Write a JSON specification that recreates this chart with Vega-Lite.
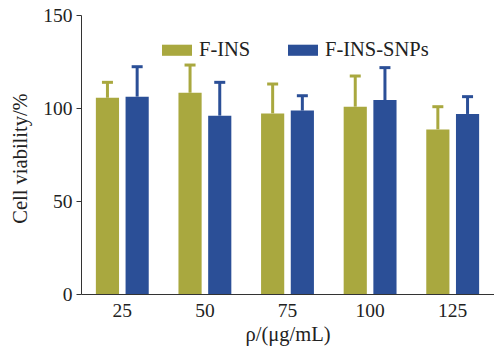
{
  "$schema": "https://vega.github.io/schema/vega-lite/v6.json",
  "width": 413,
  "height": 279,
  "autosize": {"type": "none"},
  "padding": {"left": 81, "top": 15, "right": 0, "bottom": 58},
  "background": "white",
  "config": {
    "view": {"stroke": null},
    "font": "Liberation Serif",
    "axis": {"labelFont": "Liberation Serif", "titleFont": "Liberation Serif", "labelFontSize": 19.5, "titleFontSize": 20.5, "titleFontWeight": "normal", "labelColor": "#222", "titleColor": "#222", "domainColor": "#333", "tickColor": "#333", "grid": false},
    "legend": {"labelFont": "Liberation Serif", "labelFontSize": 20.5, "labelColor": "#222"}
  },
  "data": {
    "values": [
      {"conc": "25", "group": "F-INS", "value": 105.5, "upper": 113.8},
      {"conc": "25", "group": "F-INS-SNPs", "value": 106.1, "upper": 122.2},
      {"conc": "50", "group": "F-INS", "value": 108.2, "upper": 123.1},
      {"conc": "50", "group": "F-INS-SNPs", "value": 95.9, "upper": 113.8},
      {"conc": "75", "group": "F-INS", "value": 97.1, "upper": 112.9},
      {"conc": "75", "group": "F-INS-SNPs", "value": 98.6, "upper": 106.6},
      {"conc": "100", "group": "F-INS", "value": 100.7, "upper": 117.2},
      {"conc": "100", "group": "F-INS-SNPs", "value": 104.3, "upper": 121.7},
      {"conc": "125", "group": "F-INS", "value": 88.5, "upper": 100.7},
      {"conc": "125", "group": "F-INS-SNPs", "value": 96.8, "upper": 106.1}
    ]
  },
  "encoding": {
    "x": {
      "field": "conc", "type": "ordinal", "sort": ["25", "50", "75", "100", "125"],
      "scale": {"paddingInner": 0.36, "paddingOuter": 0.18},
      "axis": {"title": "ρ/(μg/mL)", "labelAngle": 0, "ticks": false, "labelPadding": 7, "titlePadding": 5}
    },
    "xOffset": {"field": "group", "type": "nominal", "scale": {"paddingInner": 0.22, "paddingOuter": 0}},
    "color": {
      "field": "group", "type": "nominal",
      "scale": {"domain": ["F-INS", "F-INS-SNPs"], "range": ["#A9A83F", "#2B4F97"]},
      "legend": {"title": null, "orient": "none", "legendX": 81, "legendY": 20, "direction": "horizontal", "columns": 2, "columnPadding": 37, "symbolType": "M-1,-0.37H1V0.37H-1Z", "symbolSize": 900, "symbolOpacity": 1, "symbolStrokeWidth": 0, "labelOffset": 7}
    }
  },
  "layer": [
    {
      "mark": {"type": "bar", "opacity": 1},
      "encoding": {
        "y": {"field": "value", "type": "quantitative", "scale": {"domain": [0, 150], "nice": false},
          "axis": {"title": "Cell viability/%", "values": [0, 50, 100, 150], "tickSize": 5, "labelPadding": 4, "titlePadding": 12, "titleY": 143}}
      }
    },
    {
      "mark": {"type": "rule", "strokeWidth": 3},
      "encoding": {
        "y": {"field": "value", "type": "quantitative"},
        "y2": {"field": "upper"}
      }
    },
    {
      "mark": {"type": "tick", "thickness": 3, "size": 11, "opacity": 1},
      "encoding": {
        "y": {"field": "upper", "type": "quantitative"}
      }
    }
  ]
}
